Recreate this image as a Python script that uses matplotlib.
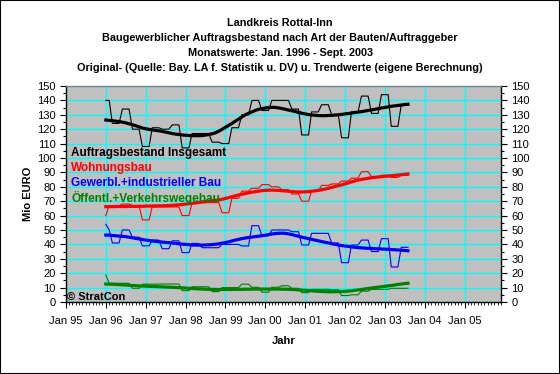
import numpy as np
import pandas as pd
import matplotlib
matplotlib.use('Agg')
import matplotlib.pyplot as plt
import matplotlib.dates as mdates
from matplotlib.ticker import MultipleLocator
from matplotlib.patches import Rectangle

plt.rcParams['font.family'] = ['Liberation Sans', 'DejaVu Sans']

# Monatswerte Jan 1996 - Aug/Sep 2003
monate = pd.date_range('1996-01-01', periods=92, freq='MS')

insg_orig = [140, 140,
             124, 124, 124, 134, 134, 134, 120, 120, 120, 108, 108, 108,
             121, 121, 121, 120, 120, 120, 123, 123, 123, 107, 107, 107,
             117, 117, 117, 117, 117, 117, 111, 111, 111, 110, 110, 110,
             121, 121, 121, 130, 130, 130, 140, 140, 140, 133, 133, 133,
             140, 140, 140, 140, 140, 140, 134, 134, 134, 116, 116, 116,
             132, 132, 132, 137, 137, 137, 130, 130, 130, 114, 114, 114,
             132, 132, 132, 143, 143, 143, 131, 131, 131, 144, 144, 144,
             122, 122, 122, 137, 137, 137]
insg_trend = [126.4, 126.1, 125.9, 125.6, 125.3, 124.9, 124.4, 123.8, 123.1, 122.4,
              121.6, 120.8, 120.3, 119.9, 119.5, 119.2, 118.9, 118.5, 118.0, 117.5,
              117.0, 116.6, 116.3, 116.0, 115.8, 115.6, 115.5, 115.5, 115.5, 115.6,
              115.9, 116.3, 116.8, 117.5, 118.6, 119.9, 121.3, 122.7, 124.0, 125.5,
              127.0, 128.5, 129.9, 131.0, 132.0, 133.0, 133.8, 134.3, 134.7, 135.0,
              135.2, 135.1, 134.8, 134.4, 133.9, 133.3, 132.8, 132.3, 131.7, 131.1,
              130.6, 130.2, 129.9, 129.7, 129.5, 129.4, 129.4, 129.5, 129.6, 129.8,
              130.0, 130.3, 130.6, 130.9, 131.2, 131.6, 131.9, 132.2, 132.6, 133.0,
              133.4, 133.8, 134.3, 134.7, 135.1, 135.5, 135.9, 136.2, 136.5, 136.8,
              137.1, 137.3]

wohn_orig = [60, 67,
             67, 67, 67, 68, 68, 68, 67, 67, 67, 57, 57, 57,
             66, 66, 66, 66, 66, 66, 66, 66, 66, 60, 60, 60,
             69, 69, 69, 69, 69, 69, 69, 69, 69, 62, 62, 62,
             72, 72, 72, 77, 77, 77, 79, 79, 79, 81.5, 81.5, 81.5,
             80, 80, 80, 78, 78, 78, 75, 75, 75, 70, 70, 70,
             77, 77, 77, 81, 81, 81, 82, 82, 82, 84, 84, 84,
             86, 86, 86, 90.5, 90.5, 90.5, 87, 87, 87, 88, 88, 88,
             86.5, 86.5, 86.5, 88, 88, 88]
wohn_trend = [66.2, 66.2, 66.2, 66.3, 66.3, 66.3, 66.3, 66.4, 66.4, 66.4,
              66.5, 66.5, 66.6, 66.6, 66.7, 66.7, 66.8, 66.8, 66.9, 67.0,
              67.1, 67.3, 67.5, 67.7, 68.0, 68.3, 68.5, 68.8, 69.1, 69.4,
              69.7, 70.0, 70.3, 70.6, 70.9, 71.4, 71.9, 72.5, 73.1, 73.7,
              74.3, 74.8, 75.3, 75.8, 76.2, 76.6, 77.0, 77.3, 77.5, 77.6,
              77.7, 77.6, 77.5, 77.3, 77.1, 76.9, 76.7, 76.5, 76.4, 76.4,
              76.5, 76.7, 76.9, 77.2, 77.5, 77.9, 78.4, 79.0, 79.6, 80.2,
              80.8, 81.3, 82.0, 82.7, 83.4, 84.1, 84.7, 85.1, 85.5, 85.9,
              86.3, 86.6, 86.8, 87.0, 87.3, 87.5, 87.7, 87.9, 88.2, 88.4,
              88.7, 88.9]

gew_orig = [54, 50,
            41, 41, 41, 50, 50, 50, 45, 45, 45, 39, 39, 39,
            43, 43, 43, 37, 37, 37, 42.5, 42.5, 42.5, 34.3, 34.3, 34.3,
            40.7, 40.7, 40.7, 37.7, 37.7, 37.7, 37.7, 37.7, 37.7, 40, 40, 40,
            40, 40, 40, 38.9, 38.9, 38.9, 53, 53, 53, 46, 46, 46,
            50, 50, 50, 50, 50, 50, 48.8, 48.8, 48.8, 39.6, 39.6, 39.6,
            47.7, 47.7, 47.7, 47.7, 47.7, 47.7, 41, 41, 41, 27.3, 27.3, 27.3,
            39.6, 39.6, 39.6, 43, 43, 43, 35, 35, 35, 44, 44, 44,
            24.3, 24.3, 24.3, 38, 38, 38]
gew_trend = [46.5, 46.4, 46.2, 46.0, 45.8, 45.6, 45.4, 45.0, 44.6, 44.2,
             43.8, 43.4, 43.0, 42.7, 42.4, 42.1, 41.9, 41.6, 41.4, 41.2,
             40.9, 40.7, 40.4, 40.2, 40.0, 39.8, 39.6, 39.5, 39.5, 39.5,
             39.6, 39.7, 39.9, 40.1, 40.4, 40.8, 41.3, 41.8, 42.4, 43.0,
             43.5, 44.0, 44.4, 44.8, 45.1, 45.4, 45.7, 46.0, 46.4, 46.8,
             47.2, 47.5, 47.7, 47.8, 47.7, 47.3, 46.8, 46.2, 45.6, 45.0,
             44.5, 44.0, 43.5, 43.0, 42.5, 42.0, 41.5, 41.0, 40.5, 40.0,
             39.6, 39.2, 38.9, 38.6, 38.3, 38.0, 37.8, 37.6, 37.4, 37.3,
             37.2, 37.0, 36.9, 36.8, 36.7, 36.6, 36.4, 36.3, 36.1, 36.0,
             35.8, 35.6]

oeff_orig = [18.8, 13,
             13, 13, 13, 13, 13, 13, 9.5, 9.5, 9.5, 12.4, 12.4, 12.4,
             12.4, 12.4, 12.4, 12.5, 12.5, 12.5, 12.5, 12.5, 12.5, 7.9, 7.9, 7.9,
             10.6, 10.6, 10.6, 10.6, 10.6, 10.6, 7.2, 7.2, 7.2, 10, 10, 10,
             10, 10, 10, 12.4, 12.4, 12.4, 10.2, 10.2, 10.2, 6.8, 6.8, 6.8,
             10.2, 10.2, 10.2, 11.3, 11.3, 11.3, 9.5, 9.5, 9.5, 6.5, 6.5, 6.5,
             8.8, 8.8, 8.8, 8.8, 8.8, 8.8, 8.5, 8.5, 8.5, 4.5, 4.5, 4.5,
             5, 5, 5, 7.5, 7.5, 7.5, 8.8, 8.8, 8.8, 8.8, 8.8, 8.8,
             9.5, 9.5, 9.5, 9.5, 9.5, 9.5]
oeff_trend = [12.5, 12.4, 12.3, 12.2, 12.0, 11.9, 11.8, 11.6, 11.5, 11.4,
              11.2, 11.1, 11.0, 10.9, 10.8, 10.7, 10.6, 10.5, 10.4, 10.3,
              10.2, 10.1, 10.0, 9.8, 9.7, 9.5, 9.4, 9.2, 9.1, 9.0,
              8.9, 8.8, 8.8, 8.7, 8.7, 8.7, 8.7, 8.7, 8.7, 8.8,
              8.8, 8.8, 8.9, 8.9, 8.9, 9.0, 9.0, 9.0, 9.0, 9.0,
              9.0, 9.0, 9.0, 8.9, 8.9, 8.8, 8.7, 8.6, 8.4, 8.3,
              8.2, 8.0, 7.8, 7.6, 7.4, 7.3, 7.2, 7.1, 7.1, 7.1,
              7.2, 7.3, 7.4, 7.6, 7.8, 8.1, 8.4, 8.7, 9.0, 9.4,
              9.7, 10.0, 10.3, 10.6, 10.9, 11.2, 11.5, 11.8, 12.2, 12.5,
              12.8, 13.0]

serien = [
    ('Auftragsbestand Insgesamt', insg_orig, insg_trend, '#000000'),
    ('Wohnungsbau', wohn_orig, wohn_trend, '#FF0000'),
    ('Gewerbl.+industrieller Bau', gew_orig, gew_trend, '#0000FF'),
    ('Öffentl.+Verkehrswegebau', oeff_orig, oeff_trend, '#008000'),
]

titel = ['Landkreis Rottal-Inn',
         'Baugewerblicher Auftragsbestand nach Art der Bauten/Auftraggeber',
         'Monatswerte: Jan. 1996 - Sept. 2003',
         'Original- (Quelle: Bay. LA f. Statistik u. DV) u. Trendwerte (eigene Berechnung)']

W, H = 560, 374
fig = plt.figure(figsize=(W / 100, H / 100), dpi=100)
fig.patch.set_facecolor('white')
fig.patches.append(Rectangle((0, 0), 1, 1, transform=fig.transFigure,
                             fill=False, edgecolor='black', linewidth=1.5))

ax = fig.add_axes([66 / W, 1 - 302 / H, (501 - 66) / W, (302 - 86) / H])
ax.set_facecolor('#C0C0C0')

for name, orig, trend, farbe in serien:
    ax.plot(monate, orig, color=farbe, linewidth=0.8, zorder=3)
for name, orig, trend, farbe in serien:
    ax.plot(monate, trend, color=farbe, linewidth=2.3, zorder=4)

ax.set_xlim(pd.Timestamp('1995-01-01'), pd.Timestamp('2005-12-01'))
ax.set_ylim(0, 150)
ax.xaxis.set_major_locator(mdates.YearLocator())
ax.xaxis.set_major_formatter(mdates.DateFormatter('Jan %y'))
ax.xaxis.set_minor_locator(mdates.MonthLocator())
ax.yaxis.set_major_locator(MultipleLocator(10))
ax.yaxis.set_minor_locator(MultipleLocator(5))
ax.grid(True, which='major', color='#00FFFF', linewidth=1.0, zorder=1)
ax.set_axisbelow(True)

ax.tick_params(axis='both', which='major', labelsize=8, length=4, width=0.8,
               direction='out', color='black')
ax.tick_params(axis='y', which='both', left=True, right=True,
               labelleft=True, labelright=True)
ax.tick_params(axis='y', which='minor', length=2.5, width=0.8)
ax.tick_params(axis='x', which='minor', length=2, width=0.6)
ax.tick_params(axis='x', which='major', pad=6)

for s in ['left', 'right', 'bottom']:
    ax.spines[s].set_color('black')
    ax.spines[s].set_linewidth(1)
ax.spines['top'].set_color('#808080')
ax.spines['top'].set_linewidth(1)

ax.set_xlabel('Jahr', fontsize=8, fontweight='bold', labelpad=7)
ax.set_ylabel('Mio EURO', fontsize=8, fontweight='bold', labelpad=3)

for i, zeile in enumerate(titel):
    fig.text(0.5, 1 - (23 + 15 * i) / H, zeile, ha='center', va='center',
             fontsize=7.8, fontweight='bold')

for i, (name, orig, trend, farbe) in enumerate(serien):
    fig.text(71 / W, 1 - (153 + 15 * i) / H, name, ha='left', va='center',
             fontsize=8.5, fontweight='bold', color=farbe, zorder=5)

fig.text(67 / W, 1 - 297 / H, '© StratCon', ha='left', va='center',
         fontsize=8, fontweight='bold', color='black')

fig.savefig('out.png', dpi=100)
